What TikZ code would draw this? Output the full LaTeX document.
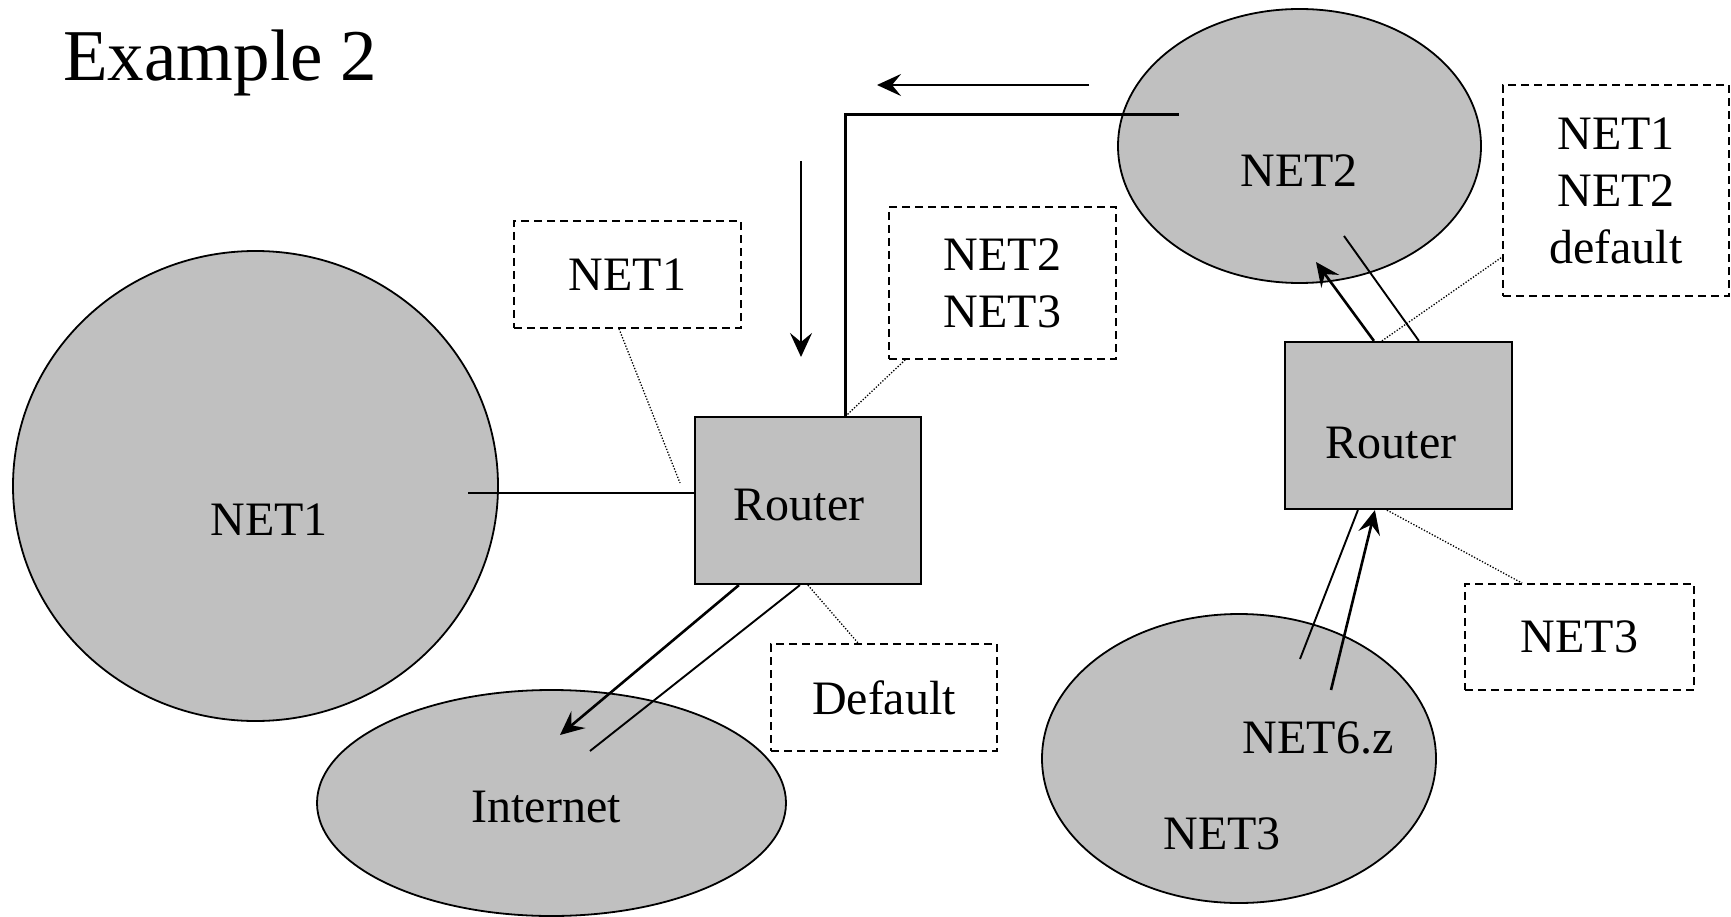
\documentclass[tikz,border=0pt]{standalone}
\usepackage{fontspec}
\setmainfont{Liberation Serif}
\usetikzlibrary{shapes.geometric,arrows.meta}
\definecolor{netgray}{RGB}{192,192,192}

\begin{document}
\begin{tikzpicture}[x=1pt,y=-1pt,
  every node/.style={font=\fontsize{48}{57}\selectfont},
  net/.style={ellipse,draw,line width=1.8pt,fill=netgray,inner sep=0pt},
  routerbox/.style={rectangle,draw,line width=2.2pt,fill=netgray,inner sep=0pt,
                    minimum width=226pt,minimum height=167pt},
  rtable/.style={rectangle,draw,line width=1.7pt,dash pattern=on 8pt off 5pt,
                 fill=white,inner sep=0pt,align=center},
  txt/.style={anchor=base,inner sep=0pt},
  wire/.style={line width=1.9pt},
  trunk/.style={line width=3pt},
  flow/.style={line width=2.6pt,-{Stealth[length=24pt,width=22pt,inset=9pt]}},
  callout/.style={line width=1.3pt,dash pattern=on 1.3pt off 1.7pt}]

\useasboundingbox (0,0) rectangle (1731,917);

% title
\node[anchor=base west,inner sep=0pt,font=\fontsize{73}{80}\selectfont] (title) at (63,81) {Example 2};

% networks
\node[net,minimum width=485pt,minimum height=470pt] (net1) at (255.5,486) {};
\node[txt] (net1lbl) at (269,535) {NET1};
\node[net,minimum width=469pt,minimum height=226pt] (inet) at (551.5,803) {};
\node[txt] (inetlbl) at (546,822) {Internet};
\node[net,minimum width=363pt,minimum height=274pt] (net2) at (1299.5,146) {};
\node[txt] (net2lbl) at (1299,187) {NET2};
\node[net,minimum width=394pt,minimum height=289pt] (net3) at (1239,758.5) {};
\node[txt] (net6lbl) at (1318,753) {NET6.z};
\node[txt] (net3lbl) at (1222,849) {NET3};

% routers
\node[routerbox] (r1) at (808,500.5) {};
\node[txt] (r1lbl) at (799,520) {Router};
\node[routerbox,minimum width=227pt] (r2) at (1398.5,425.5) {};
\node[txt] (r2lbl) at (1391,458) {Router};

% routing tables
\node[rtable,minimum width=227pt,minimum height=107pt] (t1) at (627.5,274.5) {NET1};
\node[rtable,minimum width=227pt,minimum height=152pt] (t2) at (1002.5,283) {NET2\\NET3};
\node[rtable,minimum width=226pt,minimum height=107pt] (t3) at (884,697.5) {Default};
\node[rtable,minimum width=226pt,minimum height=211pt] (t4) at (1616,190.5) {NET1\\NET2\\default};
\node[rtable,minimum width=229pt,minimum height=106pt] (t5) at (1579.5,637) {NET3};

% free ends inside the networks
\coordinate (n1port) at (468,493);
\coordinate (n2port) at (1179,115);
\coordinate (inetA) at (560,735);
\coordinate (inetB) at (590,751);
\coordinate (n2A) at (1316,262);
\coordinate (n2B) at (1344,236);
\coordinate (n3A) at (1331,690);
\coordinate (n3B) at (1300,659);
\coordinate (r1top) at ([xshift=152pt]r1.north west);
\coordinate (t1end) at (680,483);

% links
\draw[wire] (n1port) -- (n1port -| r1.west);
\draw[trunk] (r1top) |- (n2port);
\draw[wire] ([xshift=106pt]r1.south west) -- (inetB);
\draw[wire] ([xshift=135pt]r2.north west) -- (n2B);
\draw[wire] ([xshift=74pt]r2.south west) -- (n3B);

% traffic direction
\coordinate (a1s) at (1089,85);
\coordinate (a1e) at (877,85);
\coordinate (a2s) at (801,161);
\coordinate (a2e) at (801,357);
\draw[flow] (a1s) -- (a1e);
\draw[flow] (a2s) -- (a2e);
\draw[flow] ([xshift=45pt]r1.south west) -- (inetA);
\draw[flow] ([xshift=90pt]r2.north west) -- (n2A);
\draw[flow] (n3A) -- ([xshift=91pt]r2.south west);

% table callouts
\draw[callout] ([xshift=-8.5pt]t1.south) -- (t1end);
\draw[callout] ([xshift=17pt]t2.south west) -- (r1top);
\draw[callout] ([xshift=114pt]r1.south west) -- ([xshift=88pt]t3.north west);
\draw[callout] ([xshift=98pt]r2.north west) -- ([yshift=-66.5pt]t4.west);
\draw[callout] ([xshift=103pt]r2.south west) -- ([xshift=58pt]t5.north west);
\end{tikzpicture}
\end{document}
